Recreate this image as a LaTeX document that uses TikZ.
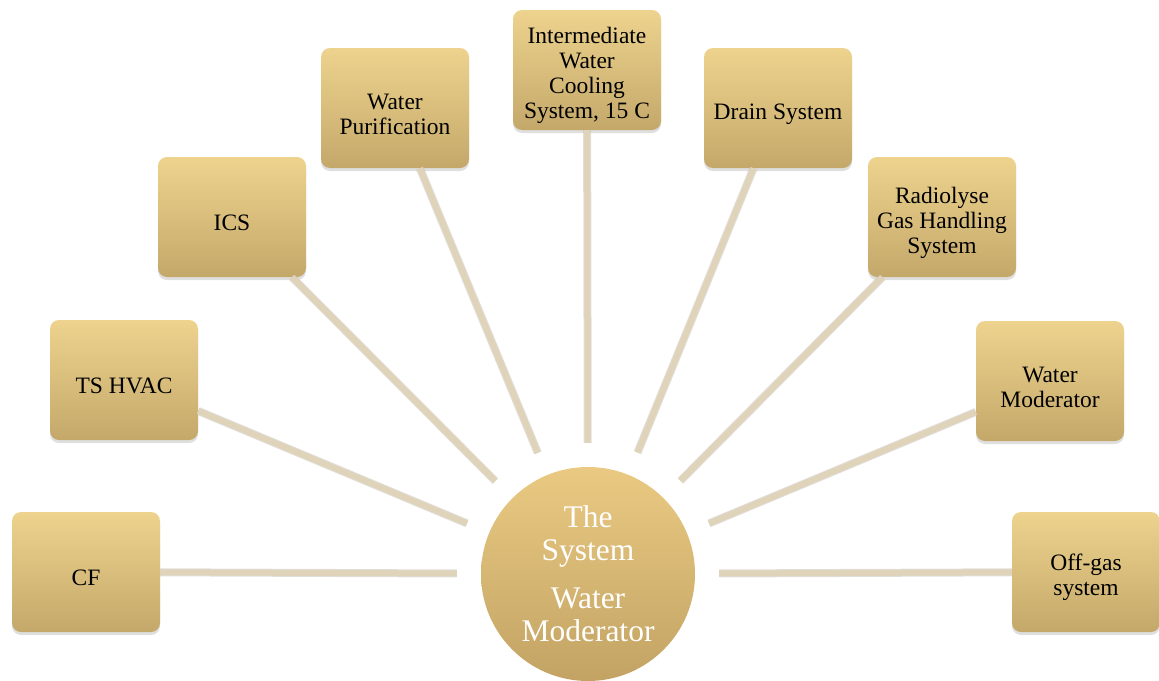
\documentclass[tikz,border=0pt]{standalone}
\usepackage{fontspec}
\setmainfont{Liberation Serif}
\usetikzlibrary{shadows}

\definecolor{boxtop}{RGB}{237,211,142}
\definecolor{boxbot}{RGB}{196,168,106}
\definecolor{hubtop}{RGB}{234,202,130}
\definecolor{hubbot}{RGB}{194,163,100}
\definecolor{linkcol}{RGB}{223,211,186}
\definecolor{linkshad}{RGB}{196,190,180}
\newcommand{\lift}{\rule{0pt}{28pt}}

\begin{document}
\begin{tikzpicture}[x=1pt,y=-1pt]
	\useasboundingbox (0,0) rectangle (1159,680);

	\begin{scope}[every node/.style={rectangle,rounded corners=9pt,minimum width=148pt,minimum height=120pt,inner sep=2pt,top color=boxtop,bottom color=boxbot,drop shadow={shadow xshift=0pt,shadow yshift=-3pt,opacity=0.25},align=center,font=\fontsize{23.5}{25}\selectfont}]
		\node (cf) at (86,572) {\lift CF};
		\node (hvac) at (124,380) {\lift TS HVAC};
		\node (ics) at (232,217) {\lift ICS};
		\node (purif) at (395,108) {\lift Water\\Purification};
		\node (cool) at (587,70) {\lift Intermediate\\Water\\Cooling\\System, 15 C};
		\node (drain) at (778,108) {\lift Drain System};
		\node (radio) at (942,217) {\lift Radiolyse\\Gas Handling\\System};
		\node (moder) at (1050,381) {\lift Water\\Moderator};
		\node (offgas) at (1086,572) {\lift Off-gas\\system};
	\end{scope}

	\node[circle,minimum size=214pt,inner sep=0pt,top color=hubtop,bottom color=hubbot,text=white,align=center,font=\fontsize{31.5}{33}\selectfont] (hub) at (588,574) {The\\System\\[15pt]Water\\Moderator};

	\begin{scope}[every edge/.style={draw=linkcol,line width=6pt,shorten >=24pt,preaction={draw=linkshad,line width=8pt,opacity=0.5}}]
		\path (cf) edge (hub);
		\path (hvac) edge (hub);
		\path (ics) edge (hub);
		\path (purif) edge (hub);
		\path (cool) edge (hub);
		\path (drain) edge (hub);
		\path (radio) edge (hub);
		\path (moder) edge (hub);
		\path (offgas) edge (hub);
	\end{scope}
\end{tikzpicture}
\end{document}
